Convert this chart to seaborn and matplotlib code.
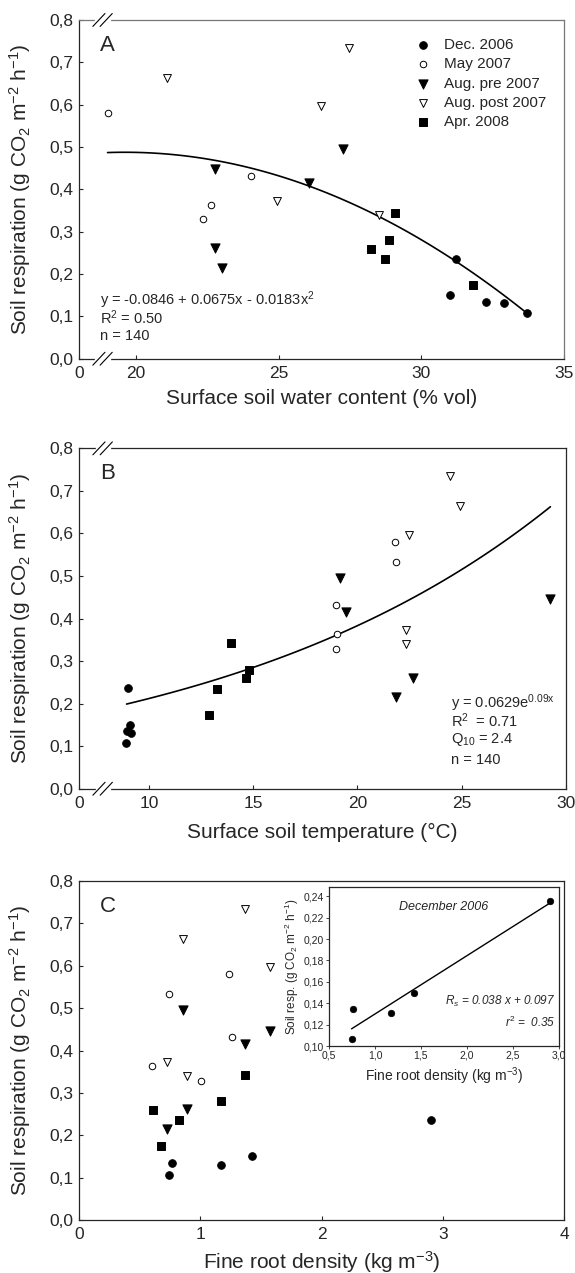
import numpy as np
import pandas as pd
import matplotlib
matplotlib.use("Agg")
import matplotlib.pyplot as plt
from matplotlib.ticker import FuncFormatter
import seaborn as sns

# --- data ---
campaigns = ["Dec. 2006", "May 2007", "Aug. pre 2007", "Aug. post 2007", "Apr. 2008"]
campaign = (["Dec. 2006"] * 5 + ["May 2007"] * 5 + ["Aug. pre 2007"] * 5
            + ["Aug. post 2007"] * 5 + ["Apr. 2008"] * 5)

# soil respiration (g CO2 m-2 h-1), same 25 points in every panel
resp = [0.236, 0.150, 0.135, 0.131, 0.107,
        0.580, 0.533, 0.431, 0.364, 0.329,
        0.495, 0.447, 0.416, 0.261, 0.215,
        0.734, 0.664, 0.597, 0.372, 0.340,
        0.343, 0.280, 0.260, 0.235, 0.174]
# surface soil water content (% vol), one May point not visible in panel A
swc = [31.2, 31.0, 32.25, 32.88, 33.71,
       19.0, np.nan, 24.02, 22.63, 22.36,
       27.24, 22.77, 26.06, 22.75, 23.0,
       27.46, 21.1, 26.47, 24.93, 28.51,
       29.08, 28.87, 28.25, 28.72, 31.80]
# surface soil temperature (C)
temp = [9.01, 9.09, 8.93, 9.12, 8.90,
        21.80, 21.85, 18.99, 19.02, 18.99,
        19.15, 29.21, 19.47, 22.67, 21.84,
        24.46, 24.92, 22.47, 22.35, 22.31,
        13.96, 14.78, 14.68, 13.26, 12.89]
# fine root density (kg m-3)
frd = [2.903, 1.424, 0.764, 1.171, 0.745,
       1.234, 0.745, 1.259, 0.605, 1.009,
       0.860, 1.575, 1.369, 0.888, 0.728,
       1.369, 0.860, 1.575, 0.723, 0.888,
       1.372, 1.171, 0.613, 0.822, 0.674]

# fitted curves as drawn
quad_coef = [-0.001913, 0.07501, -0.2477]   # panel A, polynomial in swc
exp_a, exp_k = 0.1173, 0.0592                # panel B, a*exp(k*T)

df = pd.DataFrame({"campaign": campaign, "resp": resp, "swc": swc,
                   "temp": temp, "frd": frd})

# marker, face colour, size
mstyle = {"Dec. 2006": ("o", "black", 30),
          "May 2007": ("o", "white", 22),
          "Aug. pre 2007": ("v", "black", 44),
          "Aug. post 2007": ("v", "white", 32),
          "Apr. 2008": ("s", "black", 32)}

sns.set_style("ticks", {"xtick.direction": "in", "ytick.direction": "in"})
plt.rcParams["font.family"] = ["Liberation Sans", "DejaVu Sans"]
plt.rcParams["mathtext.fontset"] = "custom"
plt.rcParams["mathtext.rm"] = "Liberation Sans"
plt.rcParams["mathtext.it"] = "Liberation Sans:italic"
plt.rcParams["axes.linewidth"] = 0.9

comma1 = FuncFormatter(lambda v, p: f"{v:.1f}".replace(".", ","))
comma2 = FuncFormatter(lambda v, p: f"{v:.2f}".replace(".", ","))

ylab = "Soil respiration (g CO$_2$ m$^{-2}$ h$^{-1}$)"

fig = plt.figure(figsize=(5.75, 12.73), dpi=100)
axA = fig.add_axes([0.1374, 0.7182, 0.8435, 0.2661])
axB = fig.add_axes([0.1374, 0.3804, 0.8470, 0.2674])
axC = fig.add_axes([0.1374, 0.0416, 0.8435, 0.2663])
axI = fig.add_axes([0.5722, 0.1783, 0.3995, 0.1252])


def draw_points(ax, xcol, with_label=False):
    for c in campaigns:
        sub = df[df.campaign == c]
        m, fc, s = mstyle[c]
        kw = {"label": c} if with_label else {}
        sns.scatterplot(data=sub, x=xcol, y="resp", ax=ax, marker=m, color=fc,
                        edgecolor="black", linewidth=0.7, s=s, zorder=3, **kw)


def style_main(ax, xlabel, pad):
    ax.set_ylim(0, 0.8)
    ax.set_yticks(np.arange(0, 0.81, 0.1))
    ax.yaxis.set_major_formatter(comma1)
    ax.tick_params(labelsize=12.5, length=3, width=0.8, pad=4)
    ax.tick_params(axis="x", pad=5)
    ax.set_ylabel(ylab, fontsize=15)
    ax.yaxis.set_label_coords(-0.095, 0.5)
    ax.set_xlabel(xlabel, fontsize=15, labelpad=pad)


def add_break(ax):
    tr = ax.transAxes
    for yy in (0, 1):
        ax.plot([0.036, 0.061], [yy, yy], color="white", lw=2.5, transform=tr,
                clip_on=False, zorder=6)
        for xc in (0.041, 0.056):
            ax.plot([xc - 0.0125, xc + 0.0125], [yy - 0.019, yy + 0.019],
                    color="black", lw=0.8, transform=tr, clip_on=False, zorder=7)


# ---- panel A ----
draw_points(axA, "swc", with_label=True)
xq = np.linspace(19.0, 33.7, 100)
sns.lineplot(x=xq, y=np.polyval(quad_coef, xq), ax=axA, color="black", lw=1.2)
axA.set_xlim(18, 35)
axA.set_xticks([18, 20, 25, 30, 35])
axA.set_xticklabels(["0", "20", "25", "30", "35"])
style_main(axA, "Surface soil water content (% vol)", 6)
for sp in ("top", "right"):
    axA.spines[sp].set_color("#777777")
add_break(axA)
axA.text(0.043, 0.926, "A", transform=axA.transAxes, fontsize=16, va="center")
axA.text(0.043, 0.173, "y = -0.0846 + 0.0675x - 0.0183x$^2$", transform=axA.transAxes,
         fontsize=10.5, va="center")
axA.text(0.043, 0.120, "R$^2$ = 0.50", transform=axA.transAxes, fontsize=10.5, va="center")
axA.text(0.043, 0.068, "n = 140", transform=axA.transAxes, fontsize=10.5, va="center")
axA.legend(loc="upper left", bbox_to_anchor=(0.68, 0.965), frameon=False, fontsize=11,
           handlelength=1.0, handletextpad=0.9, labelspacing=0.35, borderaxespad=0)

# ---- panel B ----
draw_points(axB, "temp")
xt = np.linspace(8.93, 29.25, 100)
sns.lineplot(x=xt, y=exp_a * np.exp(exp_k * xt), ax=axB, color="black", lw=1.2)
axB.set_xlim(6.65, 30)
axB.set_xticks([6.65, 10, 15, 20, 25, 30])
axB.set_xticklabels(["0", "10", "15", "20", "25", "30"])
style_main(axB, "Surface soil temperature (°C)", 9)
add_break(axB)
axB.text(0.043, 0.926, "B", transform=axB.transAxes, fontsize=16, va="center")
for yy, s in zip([0.252, 0.199, 0.146, 0.084],
                 ["y = 0.0629e$^{\\mathrm{0.09x}}$", "R$^2$  = 0.71",
                  "Q$_{10}$ = 2.4", "n = 140"]):
    axB.text(0.763, yy, s, transform=axB.transAxes, fontsize=10.5, va="center")

# ---- panel C ----
draw_points(axC, "frd")
axC.set_xlim(0, 4)
axC.set_xticks([0, 1, 2, 3, 4])
style_main(axC, "Fine root density (kg m$^{-3}$)", 5)
axC.text(0.043, 0.926, "C", transform=axC.transAxes, fontsize=16, va="center")

# ---- inset: December 2006 ----
dec = df[df.campaign == "Dec. 2006"]
slope, icpt = np.polyfit(dec.frd, dec.resp, 1)
xl = np.array([dec.frd.min(), dec.frd.max()])
sns.scatterplot(data=dec, x="frd", y="resp", ax=axI, color="black", s=22,
                edgecolor="black", linewidth=0.5, zorder=3)
sns.lineplot(x=xl, y=icpt + slope * xl, ax=axI, color="black", lw=1.0)
axI.set_xlim(0.5, 3.0)
axI.set_ylim(0.10, 0.249)
axI.set_xticks(np.arange(0.5, 3.01, 0.5))
axI.set_yticks(np.arange(0.10, 0.241, 0.02))
axI.xaxis.set_major_formatter(comma1)
axI.yaxis.set_major_formatter(comma2)
axI.tick_params(direction="out", labelsize=7.5, length=2, width=0.6, pad=1.5)
axI.set_xlabel("Fine root density (kg m$^{-3}$)", fontsize=10, labelpad=3)
axI.set_ylabel("Soil resp. (g CO$_2$ m$^{-2}$ h$^{-1}$)", fontsize=8.5, labelpad=2)
axI.text(0.5, 0.87, "December 2006", transform=axI.transAxes, fontsize=9,
         style="italic", ha="center", va="center")
axI.text(0.985, 0.28, "$R_s$ = 0.038 x + 0.097", transform=axI.transAxes, fontsize=8.5,
         style="italic", ha="right", va="center")
axI.text(0.985, 0.15, "r$^2$ =  0.35", transform=axI.transAxes, fontsize=8.5,
         style="italic", ha="right", va="center")

fig.savefig("out.png", dpi=100)
